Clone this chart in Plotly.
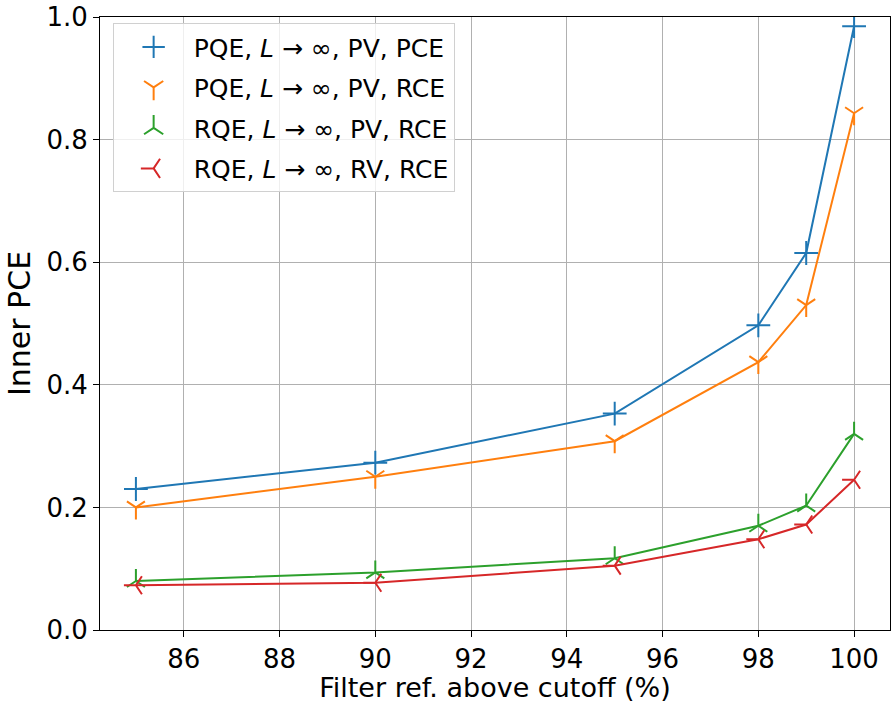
import plotly.graph_objects as go

x_vals = [85, 90, 95, 98, 99, 100]
pqe_pv_pce = [0.230, 0.273, 0.353, 0.497, 0.615, 0.985]
pqe_pv_rce = [0.200, 0.250, 0.308, 0.437, 0.530, 0.843]
rqe_pv_rce = [0.080, 0.094, 0.117, 0.170, 0.203, 0.320]
rqe_rv_rce = [0.073, 0.077, 0.105, 0.148, 0.172, 0.245]

names = [
    "PQE, <i>L</i> → ∞, PV, PCE",
    "PQE, <i>L</i> → ∞, PV, RCE",
    "RQE, <i>L</i> → ∞, PV, RCE",
    "RQE, <i>L</i> → ∞, RV, RCE",
]
series = [pqe_pv_pce, pqe_pv_rce, rqe_pv_rce, rqe_rv_rce]
colors = ["#1f77b4", "#ff7f0e", "#2ca02c", "#d62728"]
symbols = ["cross-thin-open", "y-down-open", "y-up-open", "y-left-open"]
sizes = [17, 15, 15, 15]

fig = go.Figure()
for name, ys, c, s, sz in zip(names, series, colors, symbols, sizes):
    fig.add_trace(go.Scatter(
        x=x_vals, y=ys, name=name, mode="lines+markers", showlegend=False,
        line=dict(color=c, width=2),
        marker=dict(symbol=s, size=sz, color=c, line=dict(color=c, width=2)),
    ))
for i, (name, c, s, sz) in enumerate(zip(names, colors, symbols, sizes)):
    fig.add_trace(go.Scatter(
        x=[None], y=[None], name=name, mode="markers", legendgroup=str(i),
        marker=dict(symbol=s, size=sz + 6, color=c, line=dict(color=c, width=2)),
    ))

fig.update_layout(
    width=894, height=703,
    margin=dict(l=100, r=4, t=17, b=73),
    plot_bgcolor="white", paper_bgcolor="white",
    font=dict(family="DejaVu Sans", size=25, color="black"),
    legend=dict(x=0.016, y=0.99, xanchor="left", yanchor="top",
                bgcolor="rgba(255,255,255,0.8)", bordercolor="#d0d0d0", borderwidth=1,
                font=dict(size=25), traceorder="grouped", tracegroupgap=5,
                itemwidth=70),
)
fig.update_xaxes(
    range=[84.25, 100.75], tickvals=[86, 88, 90, 92, 94, 96, 98, 100],
    showgrid=True, gridcolor="#b0b0b0", gridwidth=1,
    showline=True, linecolor="black", linewidth=1, mirror=True,
    ticks="outside", ticklen=6, tickcolor="black",
    tickfont=dict(size=26), zeroline=False, automargin=False,
    title=dict(text="Filter ref. above cutoff (%)", font=dict(size=27), standoff=2),
)
fig.update_yaxes(
    range=[0, 1.0], tickvals=[0, 0.2, 0.4, 0.6, 0.8, 1.0], tickformat=".1f",
    showgrid=True, gridcolor="#b0b0b0", gridwidth=1,
    showline=True, linecolor="black", linewidth=1, mirror=True,
    ticks="outside", ticklen=6, tickcolor="black",
    tickfont=dict(size=26), zeroline=False, automargin=False,
    title=dict(text="Inner PCE", font=dict(size=30), standoff=6),
)
fig.write_html("out.html", config={"displayModeBar": False},
               post_script="document.body.style.margin='0';")
